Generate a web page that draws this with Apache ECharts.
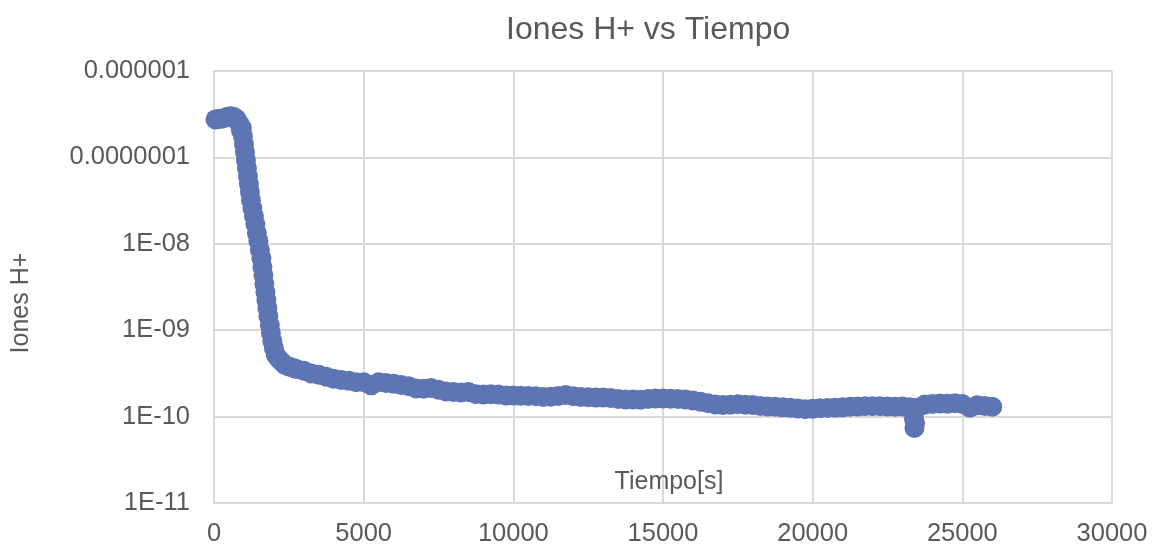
<!DOCTYPE html>
<html>
<head>
<meta charset="utf-8">
<script src="https://cdn.jsdelivr.net/npm/echarts@6/dist/echarts.min.js"></script>
<style>
html,body{margin:0;padding:0;background:#fff;}
#chart{width:1153px;height:546px;}
</style>
</head>
<body>
<div id="chart"></div>
<script>
// Time values (s)
var tiempo = [
  50,150,250,350,450,550,650,750,850,900,
  933,967,1000,1033,1067,1100,1133,1167,1200,1233,
  1283,1333,1383,1433,1483,1533,1583,1617,1650,1683,
  1717,1750,1783,1817,1867,1900,1950,2000,2067,2167,
  2267,2367,2500,2650,2750,3000,3250,3500,3750,4000,
  4250,4500,4750,5000,5250,5500,5750,6000,6250,6500,
  6750,7000,7250,7500,7750,8000,8250,8500,8750,9000,
  9250,9500,9750,10000,10250,10500,10750,11000,11250,11500,
  11750,12000,12250,12500,12750,13000,13250,13500,13750,14000,
  14250,14500,14750,15000,15250,15500,15750,16000,16250,16500,
  16750,17000,17250,17500,17750,18000,18250,18500,18750,19000,
  19250,19500,19750,20000,20250,20500,20750,21000,21250,21500,
  21750,22000,22250,22500,22750,23000,23250,23380,23400,23420,
  23500,23750,24000,24250,24500,24750,25000,25250,25500,25750,
  26000
];
// H+ ion concentration
var iones = [
  2.75e-7,2.78e-7,2.8e-7,2.85e-7,2.95e-7,3.0e-7,2.95e-7,2.8e-7,2.45e-7,2.05e-7,
  2.19e-7,1.77e-7,1.43e-7,1.155e-7,9.33e-8,7.54e-8,6.09e-8,4.92e-8,3.98e-8,3.21e-8,
  2.60e-8,2.10e-8,1.69e-8,1.33e-8,1.08e-8,8.47e-9,6.85e-9,5.39e-9,4.35e-9,3.43e-9,
  2.77e-9,2.24e-9,1.81e-9,1.46e-9,1.15e-9,9.29e-10,7.50e-10,6.22e-10,5.17e-10,4.65e-10,
  4.29e-10,3.96e-10,3.8e-10,3.65e-10,3.55e-10,3.4e-10,3.15e-10,3.05e-10,2.9e-10,2.75e-10,
  2.65e-10,2.6e-10,2.5e-10,2.5e-10,2.3e-10,2.5e-10,2.45e-10,2.4e-10,2.32e-10,2.25e-10,
  2.12e-10,2.1e-10,2.15e-10,2.05e-10,1.95e-10,1.92e-10,1.9e-10,1.92e-10,1.82e-10,1.8e-10,
  1.82e-10,1.8e-10,1.76e-10,1.75e-10,1.74e-10,1.73e-10,1.72e-10,1.69e-10,1.7e-10,1.73e-10,
  1.78e-10,1.72e-10,1.69e-10,1.68e-10,1.66e-10,1.66e-10,1.64e-10,1.6e-10,1.58e-10,1.58e-10,
  1.57e-10,1.6e-10,1.62e-10,1.62e-10,1.61e-10,1.6e-10,1.58e-10,1.54e-10,1.49e-10,1.43e-10,
  1.38e-10,1.36e-10,1.37e-10,1.39e-10,1.37e-10,1.36e-10,1.33e-10,1.31e-10,1.3e-10,1.28e-10,
  1.27e-10,1.24e-10,1.22e-10,1.23e-10,1.25e-10,1.26e-10,1.27e-10,1.28e-10,1.3e-10,1.31e-10,
  1.32e-10,1.32e-10,1.32e-10,1.31e-10,1.3e-10,1.31e-10,1.28e-10,9.5e-11,7.4e-11,8.4e-11,
  1.27e-10,1.38e-10,1.4e-10,1.42e-10,1.41e-10,1.43e-10,1.4e-10,1.27e-10,1.35e-10,1.33e-10,
  1.3e-10
];
var yTickLabels = ['1E-11','1E-10','1E-09','1E-08','0.0000001','0.000001'];
var xTicks = [0,5000,10000,15000,20000,25000,30000];

var points = tiempo.map(function(t,i){ return [t, iones[i]]; });
var textColor = '#595959';
var gridColor = '#d9d9d9';
var font = 'Liberation Sans, Arial, sans-serif';

var chart = echarts.init(document.getElementById('chart'), null, {renderer:'canvas'});
chart.setOption({
  animation:false,
  backgroundColor:'#ffffff',
  title:{
    text:'Iones H+ vs Tiempo',
    left:501, top:9,
    textStyle:{color:textColor, fontSize:32, fontWeight:'normal', fontFamily:font}
  },
  grid:{left:214, right:41, top:71, bottom:43, containLabel:false, outerBoundsMode:'none'},
  xAxis:{
    type:'value', min:xTicks[0], max:xTicks[xTicks.length-1], interval:5000,
    name:'Tiempo[s]', nameLocation:'middle', nameGap:-33, nameMoveOverlap:false,
    nameTextStyle:{color:textColor, fontSize:25, fontFamily:font, padding:[0,0,0,12]},
    axisLine:{show:true, lineStyle:{color:gridColor, width:2}},
    axisTick:{show:false},
    axisLabel:{color:textColor, fontSize:25.5, fontFamily:font, margin:18,
      formatter:function(v){ return String(v); }},
    splitLine:{show:true, lineStyle:{color:gridColor, width:2}}
  },
  yAxis:{
    type:'log', logBase:10, min:1e-11, max:1e-6, splitNumber:5,
    name:'Iones H+', nameLocation:'middle', nameGap:180, nameMoveOverlap:false,
    nameTextStyle:{color:textColor, fontSize:25, fontFamily:font, padding:[0,32,0,0]},
    axisLine:{show:true, lineStyle:{color:gridColor, width:2}},
    axisTick:{show:false},
    axisLabel:{color:textColor, fontSize:25.5, fontFamily:font, margin:24,
      formatter:function(v){
        var idx = Math.round(Math.log10(v)) + 11;
        return yTickLabels[idx] !== undefined ? yTickLabels[idx] : '';
      }},
    splitLine:{show:true, lineStyle:{color:gridColor, width:2}},
    minorTick:{show:false}
  },
  series:[{
    type:'scatter',
    data:points,
    symbol:'circle',
    symbolSize:20,
    itemStyle:{color:'#5e75b4', opacity:1},
    silent:true
  }]
});
</script>
</body>
</html>
